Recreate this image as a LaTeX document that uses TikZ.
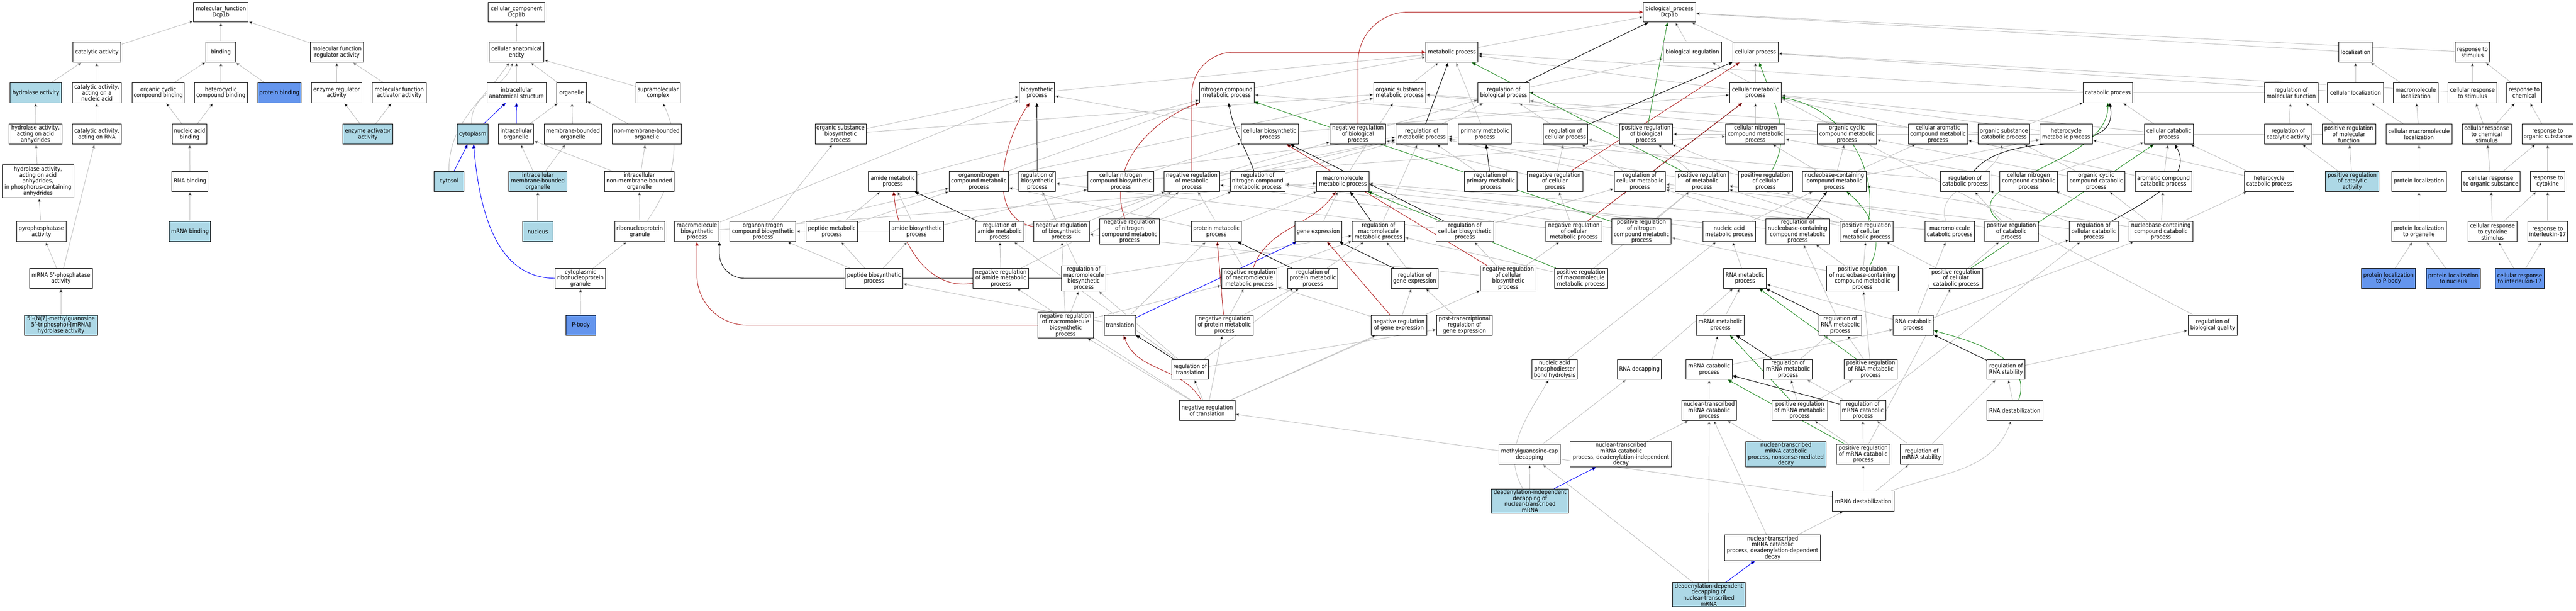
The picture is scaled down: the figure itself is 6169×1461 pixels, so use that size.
\documentclass[tikz,border=0pt]{standalone}
\usepackage{fontspec}
\setmainfont{DejaVu Sans Condensed}
\usetikzlibrary{arrows.meta,backgrounds}
\definecolor{annot}{HTML}{ADD8E6}
\definecolor{hit}{HTML}{6495ED}
\definecolor{isagray}{HTML}{C0C0C0}
\definecolor{negred}{HTML}{B22222}
\definecolor{posgreen}{HTML}{228B22}

\tikzset{
  term/.style={draw, line width=1.2pt, fill=white, rectangle, align=center,
    minimum height=48pt, inner xsep=2pt, inner ysep=2pt,
    font=\fontsize{14}{14.5}\selectfont},
  wd/.style={minimum width=#1pt},
  ann/.style={fill=annot},
  hitbox/.style={fill=hit},
  isa/.style={draw=isagray, line width=1.2pt, -{Triangle[length=9pt,width=8pt]}},
  partof/.style={isa, draw=blue},
  regl/.style={isa, draw=black},
  negreg/.style={isa, draw=negred},
  posreg/.style={isa, draw=posgreen}
}

\begin{document}
\begin{tikzpicture}[x=1pt,y=1pt]
\useasboundingbox (0,0) rectangle (6169,-1461);

% molecular function
\node[term,wd=131] (mf) at (529,-29) {molecular\_function\\Dcp1b};
\node[term,wd=114] (catact) at (232,-125) {catalytic activity};
\node[term,wd=72] (binding) at (529,-125) {binding};
\node[term,wd=127] (mfreg) at (807,-125) {molecular function\\regulator activity};
\node[term,wd=123,ann] (hydro) at (86,-222) {hydrolase activity};
\node[term,wd=118] (catna) at (232,-222) {catalytic activity,\\acting on a\\nucleic acid};
\node[term,wd=125] (ocbind) at (379,-222) {organic cyclic\\compound binding};
\node[term,wd=127] (hcbind) at (529,-222) {heterocyclic\\compound binding};
\node[term,wd=104,hitbox] (protbind) at (669,-222) {protein binding};
\node[term,wd=121] (enzreg) at (806,-222) {enzyme regulator\\activity};
\node[term,wd=129] (mfact) at (956,-222) {molecular function\\activator activity};
\node[term,wd=127] (hydaa) at (85,-321) {hydrolase activity,\\acting on acid\\anhydrides};
\node[term,wd=118] (catrna) at (232,-321) {catalytic activity,\\acting on RNA};
\node[term,wd=83] (nabind) at (454,-321) {nucleic acid\\binding};
\node[term,wd=120,ann] (enzact) at (881,-321) {enzyme activator\\activity};
\node[term,wd=171,minimum height=79pt] (hydp) at (91,-434) {hydrolase activity,\\acting on acid\\anhydrides,\\in phosphorus-containing\\anhydrides};
\node[term,wd=86] (rnabind) at (455,-434) {RNA binding};
\node[term,wd=118] (pyro) at (99,-554) {pyrophosphatase\\activity};
\node[term,wd=99,ann] (mrnabind) at (455,-554) {mRNA binding};
\node[term,wd=150] (mrnafp) at (146,-666) {mRNA 5'-phosphatase\\activity};
\node[term,wd=175,ann] (nmg) at (146,-778) {5'-(N(7)-methylguanosine\\5'-triphospho)-[mRNA]\\hydrolase activity};

% cellular component
\node[term,wd=135] (cc) at (1237,-29) {cellular\_component\\Dcp1b};
\node[term,wd=131] (cae) at (1237,-125) {cellular anatomical\\entity};
\node[term,wd=142] (ias) at (1237,-222) {intracellular\\anatomical structure};
\node[term,wd=72] (organelle) at (1369,-222) {organelle};
\node[term,wd=106] (supra) at (1576,-222) {supramolecular\\complex};
\node[term,wd=75,ann] (cytoplasm) at (1132,-321) {cytoplasm};
\node[term,wd=84] (io) at (1236,-321) {intracellular\\organelle};
\node[term,wd=138] (mbo) at (1372,-321) {membrane-bounded\\organelle};
\node[term,wd=166] (nmbo) at (1549,-321) {non-membrane-bounded\\organelle};
\node[term,wd=72,ann] (cytosol) at (1075,-434) {cytosol};
\node[term,wd=139,ann] (imbo) at (1288,-434) {intracellular\\membrane-bounded\\organelle};
\node[term,wd=166] (inmbo) at (1531,-434) {intracellular\\non-membrane-bounded\\organelle};
\node[term,wd=72,ann] (nucleus) at (1288,-554) {nucleus};
\node[term,wd=120] (rnpg) at (1532,-554) {ribonucleoprotein\\granule};
\node[term,wd=120] (crnpg) at (1390,-666) {cytoplasmic\\ribonucleoprotein\\granule};
\node[term,wd=72,hitbox] (pbody) at (1391,-778) {P-body};

% biological process
\node[term,wd=125] (bp) at (3998,-29) {biological\_process\\Dcp1b};
\node[term,wd=125] (metab) at (3477,-125) {metabolic process};
\node[term,wd=139] (bioreg) at (4053,-125) {biological regulation};
\node[term,wd=108] (cellproc) at (4204,-125) {cellular process};
\node[term,wd=81] (loc) at (5641,-125) {localization};
\node[term,wd=83] (rstim) at (5921,-125) {response to\\stimulus};

\node[term,wd=85] (bsp) at (2483,-222) {biosynthetic\\process};
\node[term,wd=131] (ncmp) at (2938,-222) {nitrogen compound\\metabolic process};
\node[term,wd=125] (osmp) at (3352,-222) {organic substance\\metabolic process};
\node[term,wd=123] (rbp) at (3601,-222) {regulation of\\biological process};
\node[term,wd=123] (cmp) at (4204,-222) {cellular metabolic\\process};
\node[term,wd=118] (catp) at (5048,-222) {catabolic process};
\node[term,wd=128] (rmf) at (5487,-222) {regulation of\\molecular function};
\node[term,wd=134] (cloc) at (5641,-222) {cellular localization};
\node[term,wd=107] (mloc) at (5785,-222) {macromolecule\\localization};
\node[term,wd=117] (crstim) at (5921,-222) {cellular response\\to stimulus};
\node[term,wd=83] (rchem) at (6045,-222) {response to\\chemical};

\node[term,wd=122] (osbsp) at (2013,-321) {organic substance\\biosynthetic\\process};
\node[term,wd=137] (cbsp) at (3041,-321) {cellular biosynthetic\\process};
\node[term,wd=133] (nrbp) at (3252,-321) {negative regulation\\of biological\\process};
\node[term,wd=125] (rmp) at (3405,-321) {regulation of\\metabolic process};
\node[term,wd=127] (pmp) at (3556,-321) {primary metabolic\\process};
\node[term,wd=107] (rcp) at (3749,-321) {regulation of\\cellular process};
\node[term,wd=128] (prbp) at (3942,-321) {positive regulation\\of biological\\process};
\node[term,wd=142] (cncmp) at (4204,-321) {cellular nitrogen\\compound metabolic\\process};
\node[term,wd=142] (occmp) at (4423,-321) {organic cyclic\\compound metabolic\\process};
\node[term,wd=142] (cacmp) at (4641,-321) {cellular aromatic\\compound metabolic\\process};
\node[term,wd=123] (oscp) at (4799,-321) {organic substance\\catabolic process};
\node[term,wd=126] (hmp) at (4948,-321) {heterocycle\\metabolic process};
\node[term,wd=117] (ccp) at (5194,-321) {cellular catabolic\\process};
\node[term,wd=114] (rca) at (5480,-321) {regulation of\\catalytic activity};
\node[term,wd=128] (prmf) at (5625,-321) {positive regulation\\of molecular\\function};
\node[term,wd=158] (cmloc) at (5793,-321) {cellular macromolecule\\localization};
\node[term,wd=117] (crcs) at (5955,-321) {cellular response\\to chemical\\stimulus};
\node[term,wd=123] (ros) at (6101,-321) {response to\\organic substance};

\node[term,wd=116] (amp) at (2138,-434) {amide metabolic\\process};
\node[term,wd=142] (oncmp) at (2344,-434) {organonitrogen\\compound metabolic\\process};
\node[term,wd=88] (rbsp) at (2484,-434) {regulation of\\biosynthetic\\process};
\node[term,wd=158] (cncbsp) at (2684,-434) {cellular nitrogen\\compound biosynthetic\\process};
\node[term,wd=133] (nrmp) at (2854,-434) {negative regulation\\of metabolic\\process};
\node[term,wd=131] (rncmp) at (3012,-434) {regulation of\\nitrogen compound\\metabolic process};
\node[term,wd=125] (mmp) at (3216,-434) {macromolecule\\metabolic process};
\node[term,wd=126] (rprimp) at (3570,-434) {regulation of\\primary metabolic\\process};
\node[term,wd=133] (nrcp) at (3724,-434) {negative regulation\\of cellular\\process};
\node[term,wd=123] (rcmp) at (3927,-434) {regulation of\\cellular metabolic\\process};
\node[term,wd=128] (prmp) at (4076,-434) {positive regulation\\of metabolic\\process};
\node[term,wd=129] (prcp) at (4228,-434) {positive regulation\\of cellular\\process};
\node[term,wd=153] (nbcmp) at (4393,-434) {nucleobase-containing\\compound metabolic\\process};
\node[term,wd=118] (rcatp) at (4706,-434) {regulation of\\catabolic process};
\node[term,wd=137] (cnccp) at (4858,-434) {cellular nitrogen\\compound catabolic\\process};
\node[term,wd=137] (occp) at (5020,-434) {organic cyclic\\compound catabolic\\process};
\node[term,wd=136] (accp) at (5181,-434) {aromatic compound\\catabolic process};
\node[term,wd=118] (hcp) at (5434,-434) {heterocycle\\catabolic process};
\node[term,wd=128,ann] (prca) at (5633,-434) {positive regulation\\of catalytic\\activity};
\node[term,wd=131] (ploc) at (5793,-434) {protein localization};
\node[term,wd=141] (crorg) at (5965,-434) {cellular response\\to organic substance};
\node[term,wd=83] (rcyt) at (6101,-434) {response to\\cytokine};

\node[term,wd=106] (mbsp) at (1669,-554) {macromolecule\\biosynthetic\\process};
\node[term,wd=158] (onbsp) at (1827,-554) {organonitrogen\\compound biosynthetic\\process};
\node[term,wd=123] (pepmp) at (1992,-554) {peptide metabolic\\process};
\node[term,wd=130] (abp) at (2195,-554) {amide biosynthetic\\process};
\node[term,wd=116] (ramp) at (2394,-554) {regulation of\\amide metabolic\\process};
\node[term,wd=133] (nrbsp) at (2542,-554) {negative regulation\\of biosynthetic\\process};
\node[term,wd=142] (nrncmp) at (2705,-554) {negative regulation\\of nitrogen\\compound metabolic\\process};
\node[term,wd=120] (protmp) at (2913,-554) {protein metabolic\\process};
\node[term,wd=113] (geneexp) at (3157,-554) {gene expression};
\node[term,wd=125] (rmmp) at (3301,-554) {regulation of\\macromolecule\\metabolic process};
\node[term,wd=138] (rcbsp) at (3508,-554) {regulation of\\cellular biosynthetic\\process};
\node[term,wd=134] (nrcmp) at (3769,-554) {negative regulation\\of cellular\\metabolic process};
\node[term,wd=142] (prncmp) at (3931,-554) {positive regulation\\of nitrogen\\compound metabolic\\process};
\node[term,wd=125] (namp) at (4141,-554) {nucleic acid\\metabolic process};
\node[term,wd=153] (rnbcmp) at (4305,-554) {regulation of\\nucleobase-containing\\compound metabolic\\process};
\node[term,wd=128] (prcmp) at (4470,-554) {positive regulation\\of cellular\\metabolic process};
\node[term,wd=118] (mcp) at (4669,-554) {macromolecule\\catabolic process};
\node[term,wd=128] (prcatp) at (4817,-554) {positive regulation\\of catabolic\\process};
\node[term,wd=117] (rccp) at (5014,-554) {regulation of\\cellular catabolic\\process};
\node[term,wd=152] (nbccp) at (5175,-554) {nucleobase-containing\\compound catabolic\\process};
\node[term,wd=131] (plorg) at (5793,-554) {protein localization\\to organelle};
\node[term,wd=118] (crcyt) at (5969,-554) {cellular response\\to cytokine\\stimulus};
\node[term,wd=96] (ril) at (6101,-554) {response to\\interleukin-17};

\node[term,wd=138] (pepbsp) at (2093,-666) {peptide biosynthetic\\process};
\node[term,wd=133] (nramp) at (2397,-666) {negative regulation\\of amide metabolic\\process};
\node[term,wd=106] (rmbsp) at (2595,-666) {regulation of\\macromolecule\\biosynthetic\\process};
\node[term,wd=133] (nrmmp) at (2992,-666) {negative regulation\\of macromolecule\\metabolic process};
\node[term,wd=120] (rprotmp) at (3144,-666) {regulation of\\protein metabolic\\process};
\node[term,wd=112] (rge) at (3388,-666) {regulation of\\gene expression};
\node[term,wd=133] (nrcbsp) at (3612,-666) {negative regulation\\of cellular\\biosynthetic\\process};
\node[term,wd=127] (prmmp) at (3786,-666) {positive regulation\\of macromolecule\\metabolic process};
\node[term,wd=102] (rnamp) at (4179,-666) {RNA metabolic\\process};
\node[term,wd=171] (prnbcmp) at (4460,-666) {positive regulation\\of nucleobase-containing\\compound metabolic\\process};
\node[term,wd=128] (prccp) at (4684,-666) {positive regulation\\of cellular\\catabolic process};
\node[term,wd=130,hitbox] (plpb) at (5720,-666) {protein localization\\to P-body};
\node[term,wd=130,hitbox] (plnuc) at (5875,-666) {protein localization\\to nucleus};
\node[term,wd=117,hitbox] (cril) at (6034,-666) {cellular response\\to interleukin-17};

\node[term,wd=133] (nrmbsp) at (2552,-778) {negative regulation\\of macromolecule\\biosynthetic\\process};
\node[term,wd=75] (transl) at (2682,-778) {translation};
\node[term,wd=139] (nrprotmp) at (2932,-778) {negative regulation\\of protein metabolic\\process};
\node[term,wd=133] (nrge) at (3350,-778) {negative regulation\\of gene expression};
\node[term,wd=133] (ptrge) at (3507,-778) {post-transcriptional\\regulation of\\gene expression};
\node[term,wd=115] (mrnamp) at (4120,-778) {mRNA metabolic\\process};
\node[term,wd=102] (rrnamp) at (4407,-778) {regulation of\\RNA metabolic\\process};
\node[term,wd=96] (rnacp) at (4582,-778) {RNA catabolic\\process};
\node[term,wd=118] (rbq) at (5299,-778) {regulation of\\biological quality};

\node[term,wd=88] (rtl) at (2850,-884) {regulation of\\translation};
\node[term,wd=109] (napbh) at (3723,-884) {nucleic acid\\phosphodiester\\bond hydrolysis};
\node[term,wd=105] (rnadecap) at (3926,-884) {RNA decapping};
\node[term,wd=110] (mrnacp) at (4093,-884) {mRNA catabolic\\process};
\node[term,wd=116] (rmrnamp) at (4282,-884) {regulation of\\mRNA metabolic\\process};
\node[term,wd=128] (prrnamp) at (4480,-884) {positive regulation\\of RNA metabolic\\process};
\node[term,wd=91] (rrnas) at (4804,-884) {regulation of\\RNA stability};

\node[term,wd=133] (nrtl) at (2891,-982) {negative regulation\\of translation};
\node[term,wd=131] (ntmcp) at (4093,-982) {nuclear-transcribed\\mRNA catabolic\\process};
\node[term,wd=133] (prmrnamp) at (4310,-982) {positive regulation\\of mRNA metabolic\\process};
\node[term,wd=110] (rmrnacp) at (4461,-982) {regulation of\\mRNA catabolic\\process};
\node[term,wd=134] (rnadest) at (4825,-982) {RNA destabilization};

\node[term,wd=146] (mgcd) at (3663,-1087) {methylguanosine-cap\\decapping};
\node[term,wd=243] (didecay) at (3882,-1087) {nuclear-transcribed\\mRNA catabolic\\process, deadenylation-independent\\decay};
\node[term,wd=192,ann] (nmd) at (4277,-1087) {nuclear-transcribed\\mRNA catabolic\\process, nonsense-mediated\\decay};
\node[term,wd=128] (prmrnacp) at (4462,-1087) {positive regulation\\of mRNA catabolic\\process};
\node[term,wd=103] (rmrnas) at (4602,-1087) {regulation of\\mRNA stability};

\node[term,wd=185,ann] (didecap) at (3664,-1199) {deadenylation-independent\\decapping of\\nuclear-transcribed\\mRNA};
\node[term,wd=147] (mrnadest) at (4462,-1199) {mRNA destabilization};
\node[term,wd=230] (dddecay) at (4245,-1311) {nuclear-transcribed\\mRNA catabolic\\process, deadenylation-dependent\\decay};
\node[term,wd=174,ann] (dddecap) at (4092,-1423) {deadenylation-dependent\\decapping of\\nuclear-transcribed\\mRNA};

\begin{scope}[on background layer]
% is_a, molecular function
\path[isa]
  (catact) edge (mf) (binding) edge (mf) (mfreg) edge (mf)
  (hydro) edge (catact) (catna) edge (catact)
  (ocbind) edge (binding) (hcbind) edge (binding) (protbind) edge (binding)
  (enzreg) edge (mfreg) (mfact) edge (mfreg)
  (hydaa) edge (hydro) (catrna) edge (catna)
  (nabind) edge (ocbind) (nabind) edge (hcbind)
  (enzact) edge (enzreg) (enzact) edge (mfact)
  (hydp) edge (hydaa) (rnabind) edge (nabind)
  (pyro) edge (hydp) (mrnabind) edge (rnabind)
  (mrnafp) edge (pyro) (mrnafp) edge (catrna)
  (nmg) edge (mrnafp);
% is_a, cellular component
\path[isa]
  (cae) edge (cc) (ias) edge (cae) (organelle) edge (cae) (supra) edge (cae)
  (cytoplasm) edge[out=95,in=-110] (cae)
  (cytosol) edge[out=90,in=-125] (cae)
  (io) edge (organelle) (mbo) edge (organelle) (nmbo) edge (organelle)
  (imbo) edge (io) (imbo) edge (mbo) (inmbo) edge (io) (inmbo) edge (nmbo)
  (nucleus) edge (imbo) (rnpg) edge (inmbo)
  (rnpg) edge[out=55,in=-65] (supra)
  (crnpg) edge (rnpg) (pbody) edge (crnpg);
\path[partof]
  (cytoplasm) edge (ias) (io) edge (ias) (cytosol) edge (cytoplasm)
  (crnpg) edge[out=180,in=-85] (cytoplasm);
% is_a, biological process
\path[isa]
  (metab) edge (bp) (bioreg) edge (bp) (cellproc) edge (bp)
  (loc) edge (bp) (rstim) edge (bp) (rbp) edge (bioreg)
  (bsp) edge (metab) (ncmp) edge (metab) (osmp) edge (metab) (pmp) edge (metab)
  (cmp) edge (metab) (cmp) edge (cellproc) (catp) edge (metab)
  (rmf) edge (rbp) (cloc) edge (loc) (cloc) edge (cellproc) (mloc) edge (loc)
  (crstim) edge (rstim) (crstim) edge (cellproc) (rchem) edge (rstim)
  (osbsp) edge (osmp) (osbsp) edge (bsp) (cbsp) edge (cmp) (cbsp) edge (bsp)
  (nrbp) edge (rbp) (rmp) edge (rbp) (rcp) edge (rbp) (prbp) edge (rbp)
  (cncmp) edge (ncmp) (cncmp) edge (cmp) (occmp) edge (osmp) (cacmp) edge (cmp)
  (oscp) edge (osmp) (oscp) edge (catp) (hmp) edge (cmp)
  (ccp) edge (cmp) (ccp) edge (catp)
  (rca) edge (rmf) (prmf) edge (rmf) (prmf) edge (prbp)
  (cmloc) edge (cloc) (cmloc) edge (mloc)
  (crcs) edge (crstim) (crcs) edge (rchem) (ros) edge (rchem)
  (amp) edge (ncmp) (oncmp) edge (ncmp) (oncmp) edge (osmp) (rbsp) edge (rmp)
  (cncbsp) edge (cncmp) (cncbsp) edge (cbsp)
  (nrmp) edge (rmp) (nrmp) edge (nrbp) (rncmp) edge (rmp) (mmp) edge (osmp)
  (rprimp) edge (rmp) (nrcp) edge (rcp) (nrcp) edge (nrbp)
  (rcmp) edge (rcp) (rcmp) edge (rmp) (prmp) edge (rmp) (prmp) edge (prbp)
  (prcp) edge (rcp) (prcp) edge (prbp)
  (nbcmp) edge (cncmp) (nbcmp) edge (occmp) (nbcmp) edge (cacmp) (nbcmp) edge (hmp)
  (rcatp) edge (rmp) (cnccp) edge (cncmp) (cnccp) edge (ccp)
  (occp) edge (occmp) (occp) edge (oscp) (accp) edge (cacmp) (accp) edge (ccp)
  (hcp) edge (hmp) (hcp) edge (ccp)
  (prca) edge (rca) (prca) edge (prmf) (ploc) edge (cmloc)
  (crorg) edge (crcs) (crorg) edge (ros) (rcyt) edge (ros)
  (mbsp) edge (mmp) (mbsp) edge (bsp) (onbsp) edge (oncmp) (onbsp) edge (osbsp)
  (pepmp) edge (amp) (pepmp) edge (oncmp)
  (abp) edge (amp) (abp) edge (cncbsp) (abp) edge (onbsp)
  (ramp) edge (rmp) (nrbsp) edge (rbsp) (nrbsp) edge (nrmp)
  (nrncmp) edge (rncmp) (nrncmp) edge (nrmp)
  (protmp) edge (mmp) (protmp) edge (oncmp) (geneexp) edge (mmp) (rmmp) edge (rmp)
  (rcbsp) edge (rbsp) (rcbsp) edge (rcmp)
  (nrcmp) edge (rcmp) (nrcmp) edge (nrcp) (nrcmp) edge (nrmp)
  (prncmp) edge (rncmp) (prncmp) edge (prmp)
  (namp) edge (nbcmp) (namp) edge (mmp)
  (rnbcmp) edge (rcmp) (rnbcmp) edge (rncmp)
  (prcmp) edge (rcmp) (prcmp) edge (prcp) (prcmp) edge (prmp)
  (mcp) edge (mmp) (mcp) edge[out=110,in=-100] (oscp)
  (prcatp) edge (rcatp) (prcatp) edge (prmp)
  (rccp) edge (rcatp) (rccp) edge (rcmp)
  (nbccp) edge (nbcmp) (nbccp) edge (cnccp) (nbccp) edge (hcp)
  (nbccp) edge (accp) (nbccp) edge (occp)
  (plorg) edge (ploc) (crcyt) edge (crorg) (crcyt) edge (rcyt) (ril) edge (rcyt)
  (pepbsp) edge (pepmp) (pepbsp) edge (abp) (pepbsp) edge (onbsp)
  (nramp) edge (ramp) (nramp) edge (nrmp)
  (rmbsp) edge (rbsp) (rmbsp) edge (rmmp)
  (nrmmp) edge (rmmp) (nrmmp) edge (nrmp)
  (rprotmp) edge (rmmp) (rge) edge (rmmp)
  (nrcbsp) edge (rcbsp) (nrcbsp) edge (nrbsp) (nrcbsp) edge (nrcmp)
  (prmmp) edge (rmmp) (prmmp) edge (prmp)
  (rnamp) edge (namp)
  (prnbcmp) edge (rnbcmp) (prnbcmp) edge (prcmp) (prnbcmp) edge (prncmp)
  (prccp) edge (rccp) (prccp) edge (prcatp) (prccp) edge (prcmp)
  (plpb) edge (plorg) (plnuc) edge (plorg)
  (cril) edge (crcyt) (cril) edge (ril)
  (nrmbsp) edge (rmbsp) (nrmbsp) edge (nrbsp) (nrmbsp) edge (nrmmp)
  (transl) edge (pepbsp) (transl) edge (protmp)
  (nrprotmp) edge (rprotmp) (nrprotmp) edge (nrmmp)
  (nrge) edge (rge) (nrge) edge (nrmmp) (ptrge) edge (rge)
  (mrnamp) edge (rnamp) (rrnamp) edge (rnbcmp)
  (rnacp) edge (rnamp) (rnacp) edge (nbccp) (rnacp) edge (mcp)
  (rbq) edge (bioreg)
  (rtl) edge (rprotmp) (rtl) edge (ptrge) (rtl) edge (ramp) (rtl) edge (rmbsp)
  (napbh) edge (namp) (rnadecap) edge (rnamp)
  (mrnacp) edge (mrnamp) (mrnacp) edge (rnacp) (rmrnamp) edge (rrnamp)
  (prrnamp) edge (rrnamp) (prrnamp) edge (prnbcmp) (rrnas) edge (rbq)
  (nrtl) edge (rtl) (nrtl) edge (nrprotmp) (nrtl) edge (nrge)
  (nrtl) edge (nramp) (nrtl) edge (nrmbsp) (nrtl) edge (nrcbsp)
  (ntmcp) edge (mrnacp)
  (prmrnamp) edge (rmrnamp) (prmrnamp) edge (prrnamp)
  (rmrnacp) edge (rmrnamp) (rmrnacp) edge (rccp) (rnadest) edge (rrnas)
  (mgcd) edge (rnadecap) (didecay) edge (ntmcp) (nmd) edge (ntmcp)
  (prmrnacp) edge (rmrnacp) (prmrnacp) edge (prmrnamp) (prmrnacp) edge (prccp)
  (rmrnas) edge (rmrnacp) (rmrnas) edge (rrnas)
  (didecap) edge (mgcd) (didecap) edge[out=120,in=-120] (napbh)
  (mrnadest) edge (prmrnacp) (mrnadest) edge (rmrnas)
  (mrnadest) edge[out=20,in=-110] (rnadest) (mrnadest) edge (nrtl)
  (dddecay) edge (ntmcp) (dddecay) edge (mrnadest)
  (dddecap) edge (mgcd) (dddecap) edge (ntmcp);
% part_of
\path[partof]
  (transl) edge (geneexp)
  (didecap) edge (didecay) (dddecap) edge (dddecay);
% regulates
\path[regl]
  (rbp) edge (bp) (rmp) edge (metab) (rcp) edge (cellproc) (rcmp) edge (cmp)
  (rprimp) edge (pmp) (rmmp) edge (mmp)
  (rncmp) edge[out=110,in=-80] (ncmp)
  (rbsp) edge (bsp) (rcbsp) edge (cbsp) (ramp) edge (amp)
  (rprotmp) edge (protmp) (rge) edge (geneexp) (rtl) edge (transl)
  (rnbcmp) edge (nbcmp) (rcatp) edge[out=50,in=-80] (catp)
  (rccp) edge[out=30,in=-60] (ccp) (rrnamp) edge (rnamp)
  (rmrnamp) edge (mrnamp) (rmrnacp) edge (mrnacp) (rrnas) edge (rnacp);
\draw[regl, rounded corners=60pt] (rmbsp) -| (mbsp.south east);
% negatively regulates
\path[negreg]
  (nrcp) edge (cellproc) (nrcmp) edge (cmp)
  (nrmmp) edge[out=70,in=235] (mmp)
  (nrncmp) edge[out=110,in=200] (ncmp)
  (nrbsp) edge[out=170,in=235] (bsp)
  (nrcbsp) edge (cbsp)
  (nramp) edge[out=190,in=-85] (amp)
  (nrprotmp) edge (protmp) (nrge) edge (geneexp)
  (nrtl) edge[out=120,in=-70] (transl);
\draw[negreg, rounded corners=120pt] (nrbp) |- (bp);
\draw[negreg, rounded corners=100pt] (nrmp) |- (metab);
\draw[negreg, rounded corners=120pt] (nrmbsp) -| (mbsp);
% positively regulates
\path[posreg]
  (prbp) edge (bp) (prmp) edge (metab)
  (prcp) edge[out=60,in=-70] (cellproc)
  (prcmp) edge[out=80,in=-10] (cmp)
  (prmmp) edge (mmp) (prncmp) edge (ncmp)
  (prnbcmp) edge[out=60,in=-40] (nbcmp)
  (prcatp) edge[out=140,in=-90] (catp)
  (prccp) edge (ccp)
  (prrnamp) edge (rnamp) (prmrnamp) edge (mrnamp) (prmrnacp) edge (mrnacp)
  (rnadest) edge[out=70,in=-15] (rnacp);
\end{scope}
\end{tikzpicture}
\end{document}
